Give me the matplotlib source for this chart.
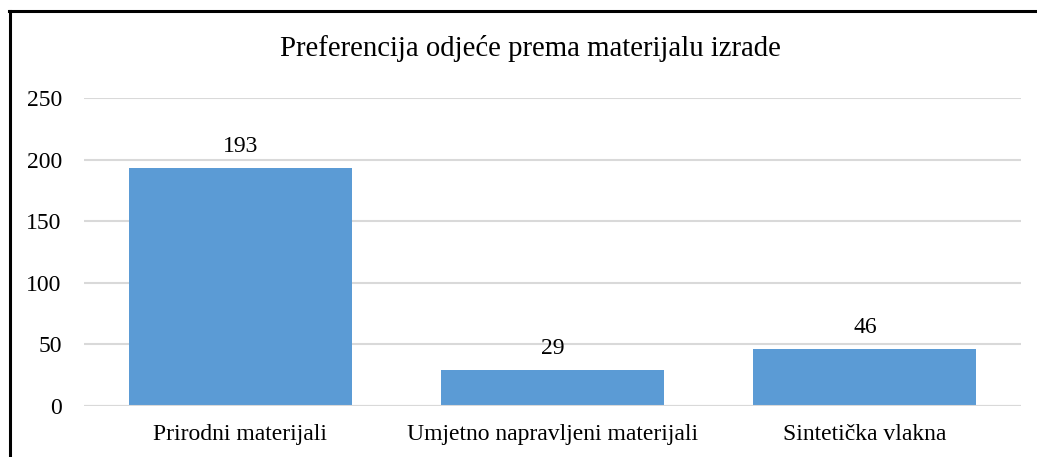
import matplotlib
matplotlib.use("Agg")
import matplotlib.pyplot as plt
from matplotlib.lines import Line2D

categories = ["Prirodni materijali", "Umjetno napravljeni materijali", "Sintetička vlakna"]
values = [193, 29, 46]
yticks = [0, 50, 100, 150, 200, 250]
title = "Preferencija odjeće prema materijalu izrade"

plt.rcParams['font.family'] = ['Liberation Serif', 'DejaVu Serif']

W, H = 1037, 457
fig = plt.figure(figsize=(W/100, H/100), dpi=100)
ax = fig.add_axes([84/W, 1-406/H, (1021-84)/W, (406-98)/H])

fs = 17
x = list(range(len(categories)))
bars = ax.bar(x, values, width=0.714, color='#5B9BD5', zorder=3)
ax.set_xlim(-0.5, len(categories)-0.5)
ax.set_ylim(0, 250)
ax.set_yticks(yticks)
ax.set_yticklabels([str(v) for v in yticks], fontsize=fs)
ax.set_xticks(x)
ax.set_xticklabels(categories, fontsize=fs)
ax.tick_params(axis='both', length=0, colors='#000000')
ax.tick_params(axis='y', pad=16)
ax.tick_params(axis='x', pad=13)
ax.grid(axis='y', color='#D9D9D9', linewidth=1.5, zorder=0)
for s in ax.spines.values():
    s.set_visible(False)
ax.axhline(0, color='#D9D9D9', linewidth=1.5, zorder=4)

for b, v in zip(bars, values):
    ax.annotate(str(v), (b.get_x()+b.get_width()/2, v), xytext=(0, 8),
                textcoords='offset points', ha='center', va='bottom', fontsize=fs)

fig.text(530/W, 1-48/H, title, ha='center', va='center', fontsize=20.7)

fig.add_artist(Line2D([10/W, 10/W], [0, 1-11/H], color='black', linewidth=2.2, transform=fig.transFigure))
fig.add_artist(Line2D([9/W, 1], [1-11/H, 1-11/H], color='black', linewidth=2.2, transform=fig.transFigure))

fig.savefig("out.png", dpi=100)
